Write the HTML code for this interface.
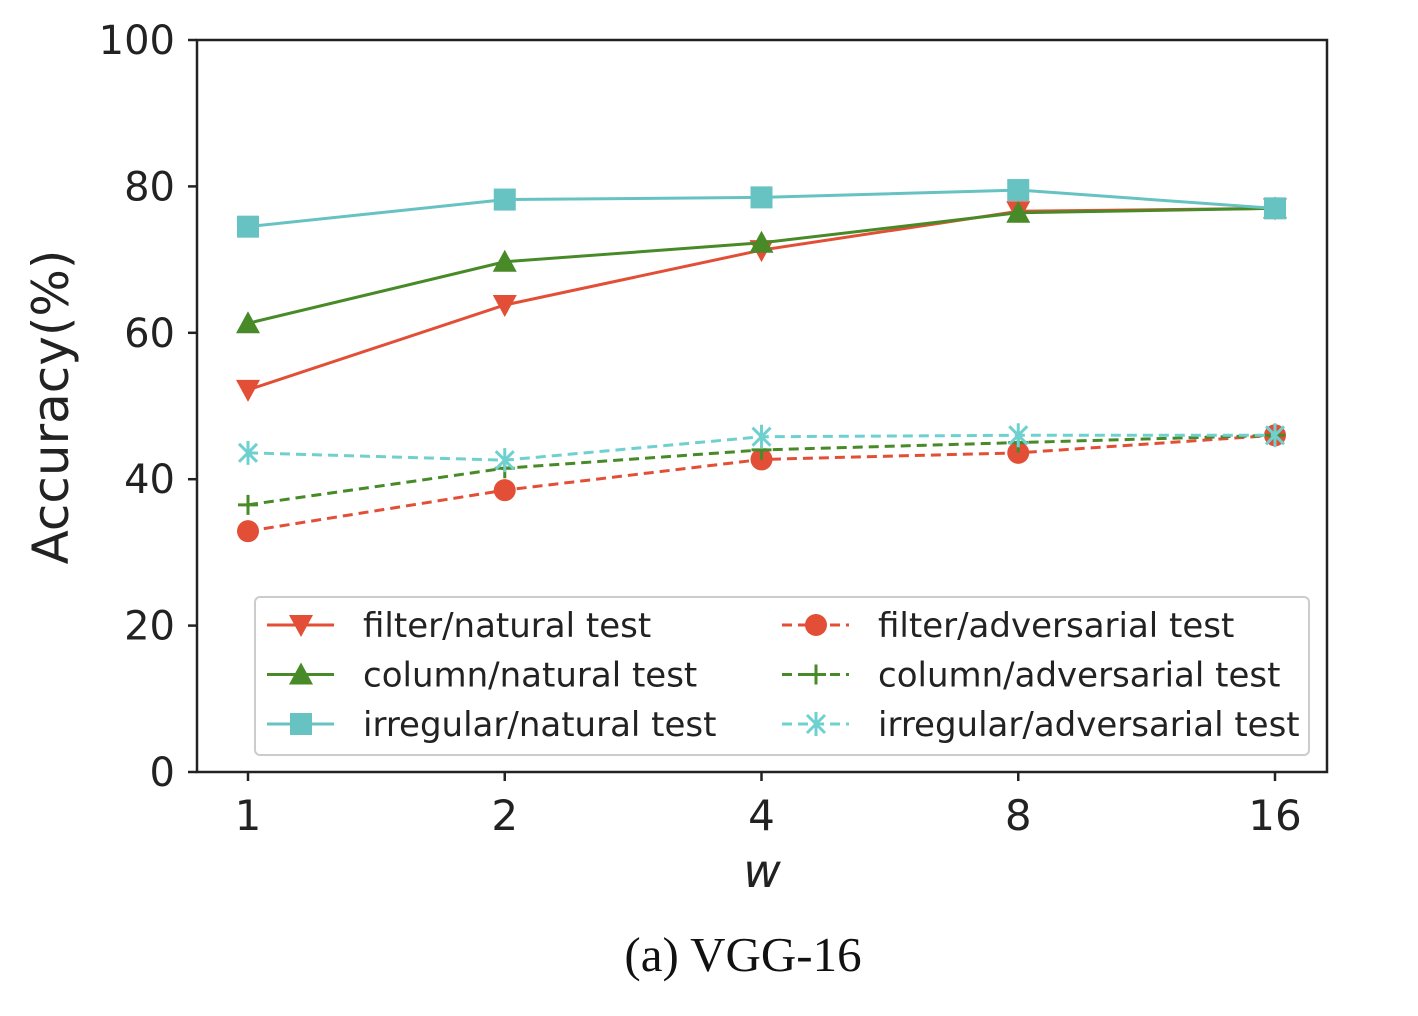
<!DOCTYPE html>
<html><head><meta charset="utf-8"><style>
html,body{margin:0;padding:0;background:#fff;width:1418px;height:1016px;overflow:hidden}
svg{display:block}
</style></head><body>
<svg id="chart" width="1418" height="1016" xmlns="http://www.w3.org/2000/svg" font-family="'DejaVu Sans','Liberation Sans',sans-serif"></svg>
<script>
const categories = ["1","2","4","8","16"];
const yTicks = [0,20,40,60,80,100];
const filterNatural = [52.2,63.8,71.3,76.6,77.0];
const columnNatural = [61.3,69.7,72.3,76.4,77.0];
const irregularNatural = [74.5,78.2,78.5,79.5,77.0];
const filterAdv = [32.9,38.5,42.7,43.6,46.0];
const columnAdv = [36.5,41.5,44.0,45.0,46.0];
const irregularAdv = [43.6,42.6,45.8,46.0,46.0];

const NS="http://www.w3.org/2000/svg";
const svg=document.getElementById('chart');
const L=197,R=1327,T=40,B=772;
const x0=248,dx=256.75;
function xs(i){return x0+i*dx;}
function ys(v){return B-(v/100)*(B-T);}
function mk(tag,attrs,parent){const e=document.createElementNS(NS,tag);for(const k in attrs)e.setAttribute(k,attrs[k]);(parent||svg).appendChild(e);return e;}

const RED="#e24f36",GREEN="#478a27",CYAN="#67c2c2",CYANL="#6fd0d0";
const series=[
 {name:'filter-natural',data:filterNatural,color:RED,dash:null,marker:'tri-down'},
 {name:'column-natural',data:columnNatural,color:GREEN,dash:null,marker:'tri-up'},
 {name:'irregular-natural',data:irregularNatural,color:CYAN,dash:null,marker:'square'},
 {name:'filter-adversarial',data:filterAdv,color:RED,dash:'10,6',marker:'circle'},
 {name:'column-adversarial',data:columnAdv,color:GREEN,dash:'10,6',marker:'plus'},
 {name:'irregular-adversarial',data:irregularAdv,color:CYANL,dash:'10,6',marker:'x'}
];

function marker(type,x,y,color,g){
  let e;
  if(type==='tri-down'){e=mk('polygon',{points:`${x-12},${y-10} ${x+12},${y-10} ${x},${y+12}`,fill:color},g);}
  else if(type==='tri-up'){e=mk('polygon',{points:`${x-12},${y+10} ${x+12},${y+10} ${x},${y-12}`,fill:color},g);}
  else if(type==='square'){e=mk('rect',{x:x-11,y:y-11,width:22,height:22,fill:color},g);}
  else if(type==='circle'){e=mk('circle',{cx:x,cy:y,r:11,fill:color},g);}
  else if(type==='plus'){e=mk('path',{d:`M${x-10},${y}H${x+10}M${x},${y-10}V${y+10}`,stroke:color,'stroke-width':3,fill:'none'},g);}
  else {e=mk('path',{d:`M${x-9},${y-9}L${x+9},${y+9}M${x-9},${y+9}L${x+9},${y-9}M${x},${y-12}V${y+12}`,stroke:color,'stroke-width':3,fill:'none'},g);}
  
  
}

const frame=mk('rect',{x:L,y:T,width:R-L,height:B-T,fill:'none',stroke:'#222','stroke-width':2.5});



yTicks.forEach(v=>{
  const y=ys(v);
  const t=mk('line',{x1:L-9,x2:L,y1:y,y2:y,stroke:'#222','stroke-width':2.5});
  
  
  const lb=mk('text',{x:L-22,y:y+14,'text-anchor':'end','font-size':40,fill:'#222'});
  lb.textContent=v;
  
  
});
categories.forEach((c,i)=>{
  const x=xs(i);
  const t=mk('line',{x1:x,x2:x,y1:B,y2:B+9,stroke:'#222','stroke-width':2.5});
  
  
  const lb=mk('text',{x:x,y:B+58,'text-anchor':'middle','font-size':42,fill:'#222'});
  lb.textContent=c;
  
  
});

series.forEach(s=>{
  const g=mk('g',{});
  
  
  const pts=s.data.map((v,i)=>xs(i)+','+ys(v)).join(' ');
  const a={points:pts,fill:'none',stroke:s.color,'stroke-width':3};
  if(s.dash)a['stroke-dasharray']=s.dash;
  const pl=mk('polyline',a,g);
  
  
  s.data.forEach((v,i)=>marker(s.marker,xs(i),ys(v),s.color,g));
});

const yt=mk('text',{x:0,y:0,transform:'translate(68,407) rotate(-90)','text-anchor':'middle','font-size':50,fill:'#222'});
yt.textContent='Accuracy(%)';


const xt=mk('text',{x:762,y:887,'text-anchor':'middle','font-size':46,'font-style':'italic',fill:'#222'});
xt.textContent='w';



const lg=mk('g',{});


mk('rect',{x:255,y:597,width:1054,height:158,rx:5,fill:'#fff',stroke:'#ccc','stroke-width':2},lg);
const labels=['filter/natural test','column/natural test','irregular/natural test','filter/adversarial test','column/adversarial test','irregular/adversarial test'];
series.forEach((s,i)=>{
  const col=i<3?0:1,row=i%3;
  const lx=col?782:267, ly=625+row*49.5;
  const e=mk('g',{},lg);
  
  
  const a={x1:lx,x2:lx+67,y1:ly,y2:ly,stroke:s.color,'stroke-width':3};
  if(s.dash)a['stroke-dasharray']='10,6';
  mk('line',a,e);
  marker(s.marker,lx+34,ly,s.color,e);
  const t=mk('text',{x:lx+96,y:ly+12,'font-size':34,fill:'#222'},e);
  t.textContent=labels[i];
});

const cap=mk('text',{x:743,y:971,'text-anchor':'middle','font-size':49,'font-family':"'Liberation Serif',serif",fill:'#111'});
cap.textContent='(a) VGG-16';


</script>
</body></html>
